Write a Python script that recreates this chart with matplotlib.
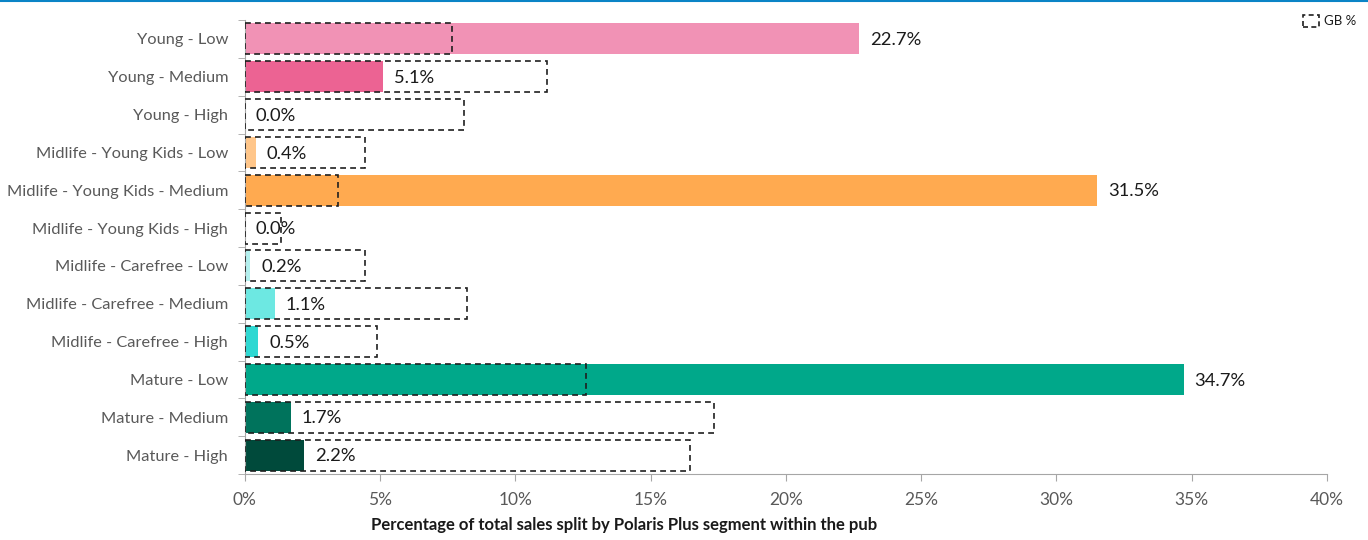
import numpy as np
import matplotlib.pyplot as plt
from matplotlib.patches import Rectangle
from matplotlib.lines import Line2D

segments = ['Young - Low', 'Young - Medium', 'Young - High',
            'Midlife - Young Kids - Low', 'Midlife - Young Kids - Medium',
            'Midlife - Young Kids - High', 'Midlife - Carefree - Low',
            'Midlife - Carefree - Medium', 'Midlife - Carefree - High',
            'Mature - Low', 'Mature - Medium', 'Mature - High']
pub_pct = [22.7, 5.1, 0.0, 0.4, 31.5, 0.0, 0.2, 1.1, 0.5, 34.7, 1.7, 2.2]
gb_pct = [7.65, 11.15, 8.1, 4.45, 3.45, 1.35, 4.45, 8.2, 4.9, 12.6, 17.35, 16.45]
colors = ['#F192B5', '#EC6393', '#D63A72', '#FFC68A', '#FFAA50', '#E8892A',
          '#B3F0EE', '#6DE8E2', '#2ED8D2', '#00A88A', '#00735C', '#004A3B']
xticks = [0, 5, 10, 15, 20, 25, 30, 35, 40]

plt.rcParams['font.family'] = ['Lato', 'DejaVu Sans']
grey = '#595959'

fig = plt.figure(figsize=(13.68, 5.4), dpi=100)
ax = fig.add_axes([0.179, 0.122, 0.791, 0.841])

y = np.arange(len(segments))
h = 0.82
ax.barh(y, pub_pct, height=h, color=colors, zorder=2)
ax.barh(y, gb_pct, height=h, fill=False, edgecolor='#1f1f1f', linestyle=(0, (3.5, 2.5)),
        linewidth=1.2, zorder=3)

for yi, v in zip(y, pub_pct):
    ax.text(v + 0.4, yi + 0.03, f'{v:.1f}%', va='center', ha='left', fontsize=13.2,
            color='#1a1a1a', zorder=4)

ax.set_ylim(len(segments) - 0.5, -0.5)
ax.set_xlim(0, 40)
ax.set_yticks(y)
ax.set_yticklabels(segments, fontsize=11.8, color=grey)
ax.set_yticks(np.arange(-0.5, len(segments), 1), minor=True)
ax.tick_params(axis='y', which='major', length=0, pad=12)
ax.tick_params(axis='y', which='minor', length=5, color='#a6a6a6')
ax.set_xticks(xticks)
ax.set_xticklabels([f'{t}%' for t in xticks], fontsize=12.5, color=grey)
ax.tick_params(axis='x', length=5, color='#a6a6a6', pad=8)
for s in ['top', 'right']:
    ax.spines[s].set_visible(False)
for s in ['left', 'bottom']:
    ax.spines[s].set_color('#a6a6a6')

fig.text(624 / 1368, 1 - 525 / 540,
         'Percentage of total sales split by Polaris Plus segment within the pub',
         ha='center', va='center', fontsize=12, fontweight='bold', color='#1a1a1a')

# legend box top right
handle = Rectangle((0, 0), 1, 1, fill=False, edgecolor='#1f1f1f',
                   linestyle=(0, (3, 2)), linewidth=1.2)
fig.legend([handle], ['GB %'], loc='upper right', bbox_to_anchor=(1.0, 0.995),
           frameon=False, fontsize=9.5, handlelength=1.2, handleheight=1.1,
           handletextpad=0.4, labelcolor='#1a1a1a')

# blue rule at the top
fig.add_artist(Line2D([0, 1], [0.998, 0.998], color='#0A84C6', linewidth=1.5,
                      transform=fig.transFigure))

fig.savefig('out.png', dpi=100)
